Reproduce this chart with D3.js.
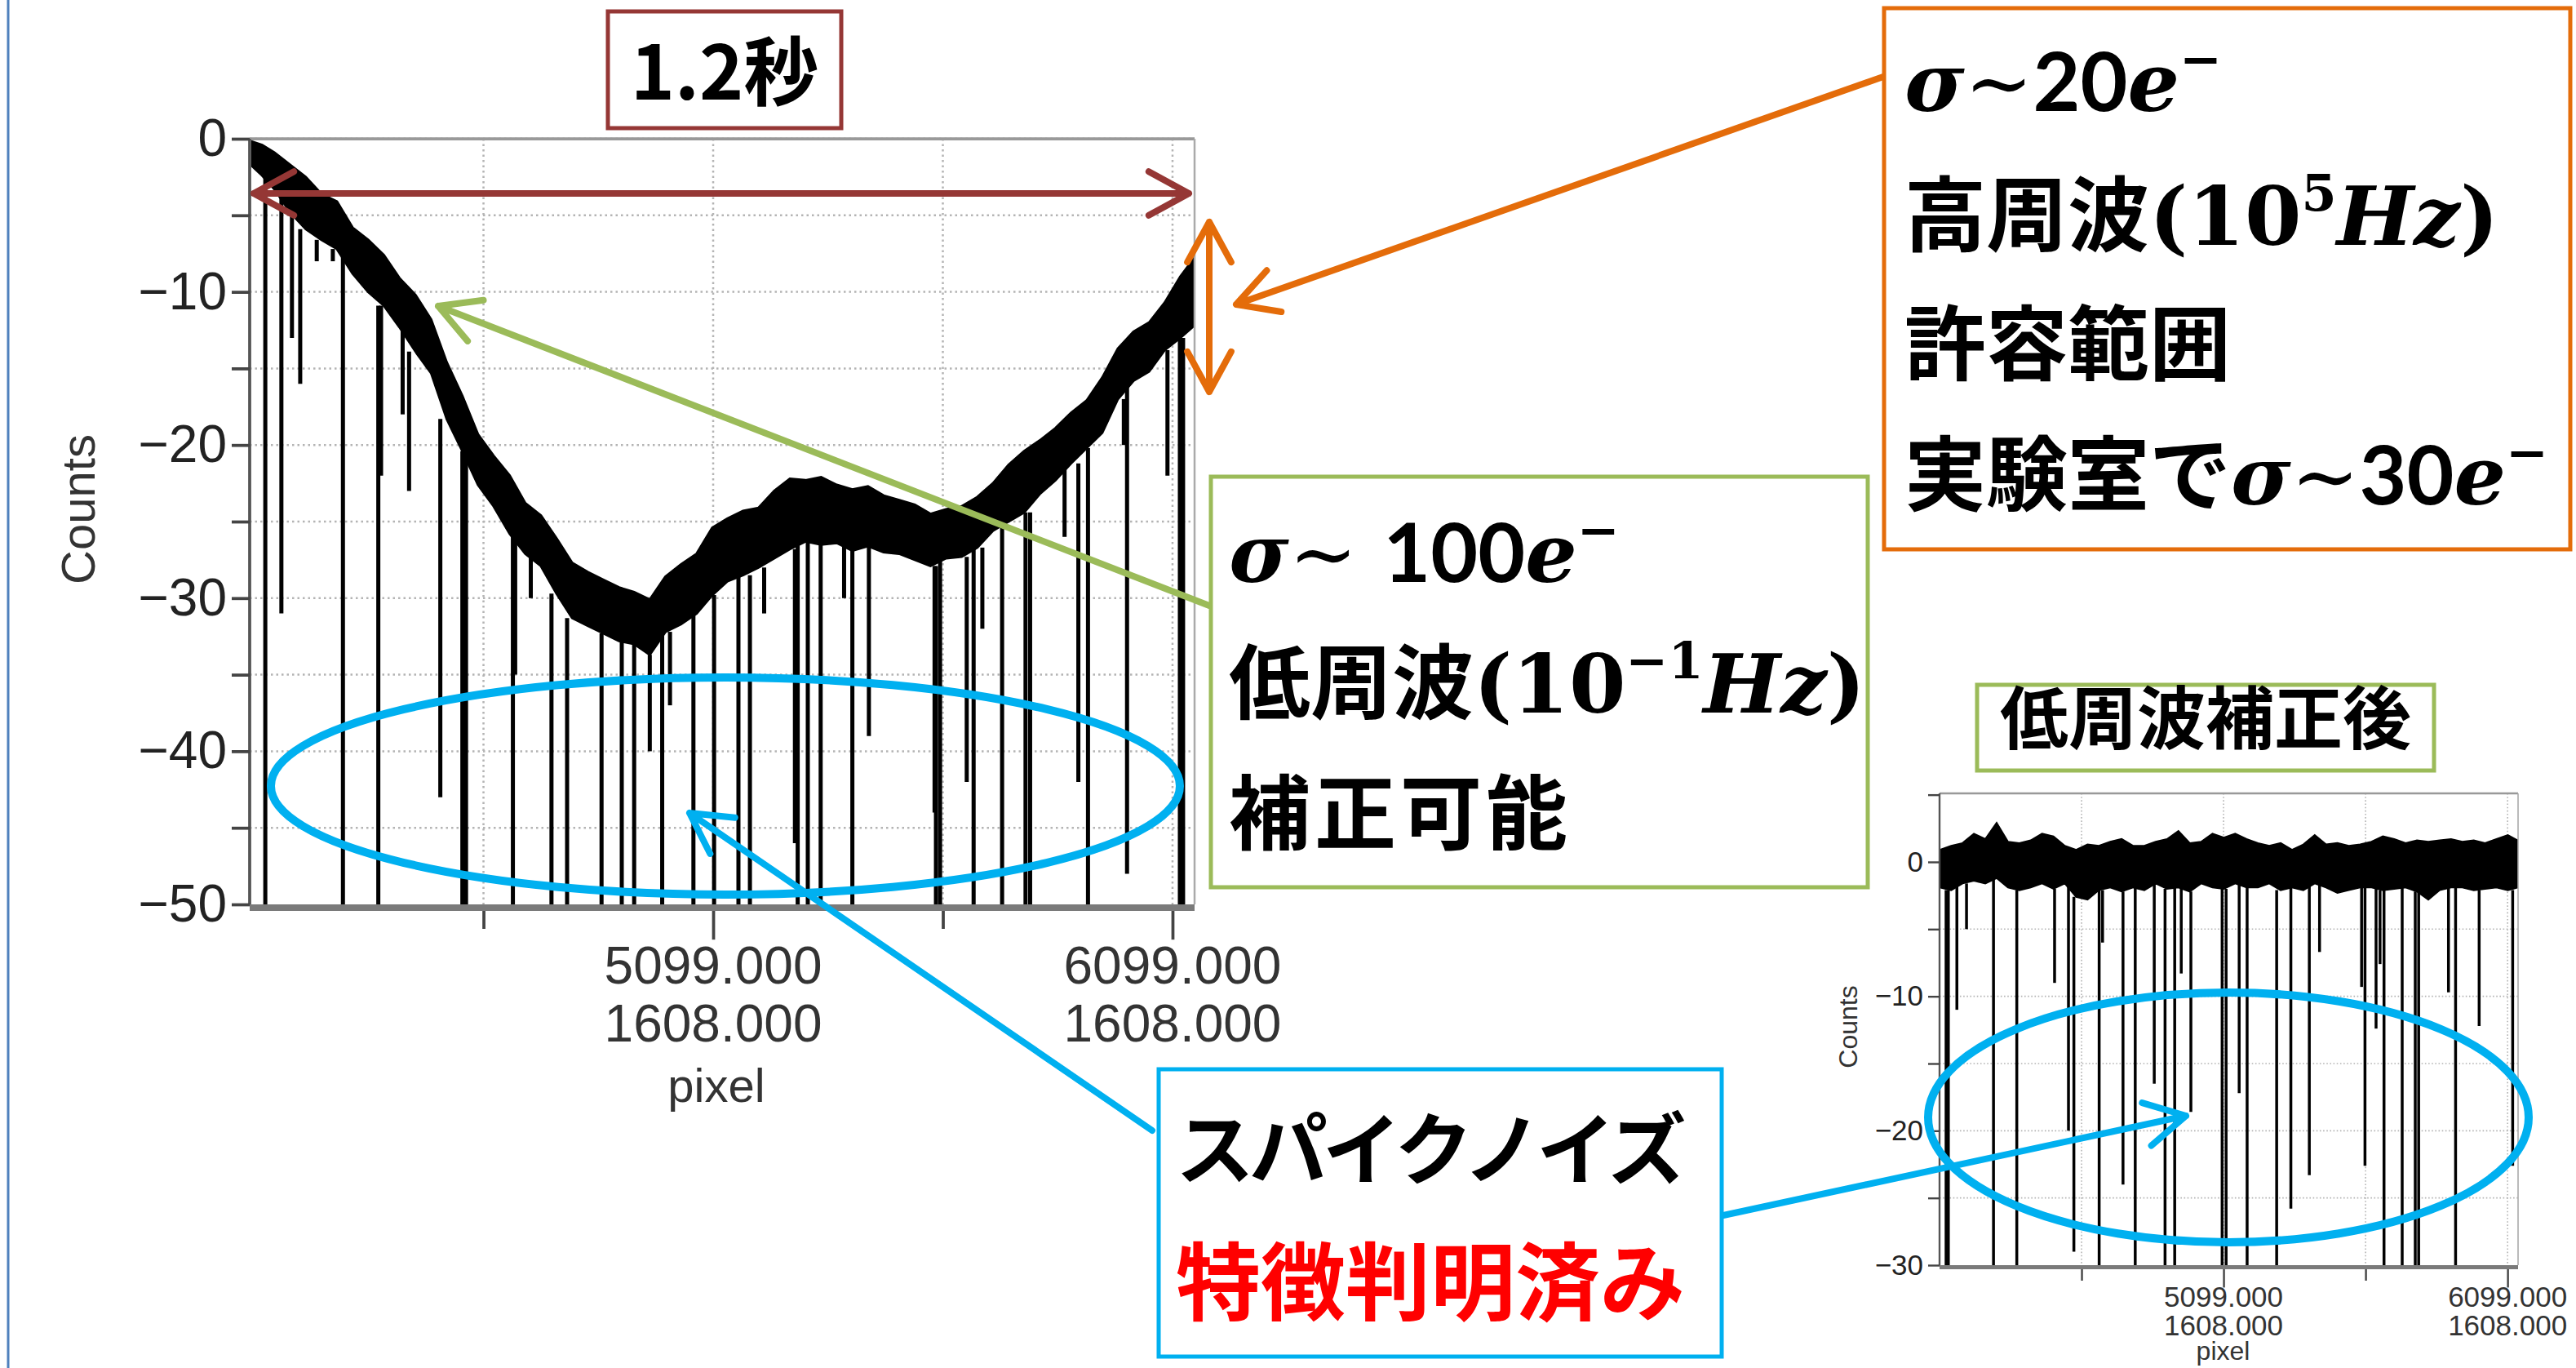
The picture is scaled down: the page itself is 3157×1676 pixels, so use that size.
<!DOCTYPE html>
<html lang="ja">
<head>
<meta charset="UTF-8" />
<title>ノイズ解析</title>
<script src="https://d3js.org/d3.v7.min.js"></script>
<style>
  body { margin: 0; background: #fff; }
  .tick text { font-family: "Liberation Sans", Arial, sans-serif; fill: #222; }
  .lab { font-family: "Liberation Sans", Arial, sans-serif; fill: #333; }
  .jp { font-family: "Noto Sans CJK JP", sans-serif; font-weight: 700; }
</style>
</head>
<body>
<script>
// raw row readout: noise band (upper / lower edge) along the pixel row
const rawPixel = [4096,4117,4144,4178,4212,4246,4280,4314,4348,4382,4416,4451,4485,4519,4553,4587,
  4621,4656,4690,4724,4758,4792,4826,4860,4894,4927,4961,4995,5029,5063,5097,5130,5164,5198,5232,
  5266,5300,5334,5368,5402,5436,5470,5504,5538,5572,5606,5640,5674,5708,5742,5776,5810,5844,5878,
  5912,5946,5980,6014,6048,6082,6116,6146];
const rawHi = [-0.2,-0.4,-0.9,-1.7,-2.5,-3.6,-4.1,-5.8,-6.6,-7.6,-9.1,-10.2,-11.8,-14.6,-16.8,-19.3,
  -20.7,-22.0,-23.8,-24.6,-26.1,-27.7,-28.3,-28.8,-29.3,-29.6,-30.1,-28.6,-27.8,-27.1,-25.4,-24.8,-24.3,
  -24.1,-23.0,-22.2,-22.3,-22.1,-22.6,-22.9,-22.7,-23.3,-23.6,-23.9,-24.5,-24.2,-24.0,-23.4,-22.5,-21.3,
  -20.4,-19.7,-18.9,-17.9,-17.1,-15.6,-13.7,-12.6,-12.0,-10.7,-9.0,-7.8];
const rawLo = [-1.8,-2.4,-3.3,-4.8,-5.9,-6.6,-7.2,-8.8,-10.0,-10.9,-12.3,-13.9,-15.3,-18.3,-20.4,-22.6,
  -24.0,-25.8,-27.1,-27.9,-29.7,-31.3,-31.8,-32.3,-32.8,-33.0,-33.7,-32.2,-31.7,-31.0,-29.8,-28.9,-28.5,
  -28.0,-27.4,-26.8,-26.3,-26.5,-26.4,-26.9,-26.6,-27.0,-27.1,-27.5,-27.9,-27.4,-27.3,-26.7,-25.6,-25.0,
  -24.4,-23.2,-22.3,-21.2,-20.2,-19.2,-17.0,-15.8,-15.2,-13.8,-13.0,-12.2];
// spike noise in the raw row: [pixel, lowest count]
const rawSpikes = [[4124,-50],[4159,-31],[4182,-13],[4200,-16],[4236,-8],[4271,-8],[4293,-50],[4370,-50],
  [4376,-22],[4423,-18],[4437,-23],[4505,-43],[4553,-50],[4561,-50],[4663,-50],[4668,-35],[4702,-30],
  [4747,-50],[4781,-50],[4856,-50],[4900,-50],[4927,-50],[4961,-40],[4988,-50],[5005,-37],[5056,-50],
  [5101,-50],[5154,-50],[5179,-50],[5210,-31],[5277,-46],[5283,-50],[5305,-50],[5333,-50],[5384,-30],
  [5402,-50],[5438,-39],[5581,-44],[5584,-50],[5593,-50],[5651,-42],[5666,-50],[5685,-32],[5728,-50],
  [5779,-50],[5789,-50],[5864,-26],[5894,-42],[5915,-50],[5993,-20],[6000,-48],[6088,-22],[6115,-50],
  [6122,-50]];

// same row after low-frequency correction
const corrPixel = [4100,4140,4180,4220,4260,4300,4340,4380,4420,4460,4500,4540,4580,4620,4660,4700,
  4740,4780,4820,4860,4900,4940,4980,5020,5060,5100,5140,5180,5220,5260,5300,5340,5380,5420,5460,5500,
  5540,5580,5620,5660,5700,5740,5780,5820,5860,5900,5940,5980,6020,6060,6100,6135];
const corrHi = [0.9,1.2,1.4,2.1,1.7,2.9,1.5,1.4,1.6,2.1,1.9,1.2,0.9,1.3,1.2,1.5,1.7,1.2,1.2,1.5,1.7,2.3,
  1.4,1.5,2.1,1.8,2.1,1.7,1.4,1.2,1.4,0.9,1.3,2.0,1.3,1.4,1.2,1.3,1.5,1.9,1.7,1.4,1.6,1.5,1.6,1.7,1.5,
  1.6,1.4,1.7,2.0,1.6];
const corrLo = [-1.9,-2.1,-1.6,-1.4,-1.6,-1.2,-1.9,-2.1,-1.9,-1.6,-2.0,-1.6,-2.6,-2.8,-2.1,-1.9,-2.2,
  -1.9,-2.1,-1.6,-2.0,-1.9,-2.2,-1.6,-1.9,-2.0,-1.6,-1.9,-1.9,-1.6,-2.1,-1.9,-2.1,-1.6,-1.9,-2.3,-2.1,
  -1.9,-1.9,-2.1,-2.0,-1.9,-2.2,-2.8,-2.1,-1.9,-1.9,-2.1,-2.0,-1.9,-2.1,-1.9];
const corrSpikes = [[4122,-30],[4130,-30],[4160,-11],[4194,-5],[4289,-30],[4371,-30],[4504,-9],[4553,-20],
  [4572,-29],[4661,-30],[4673,-6],[4745,-24],[4788,-30],[4855,-16.5],[4893,-30],[4927,-30],[4950,-8.3],
  [4984,-18.6],[5094,-30],[5108,-30],[5154,-17.2],[5182,-30],[5286,-30],[5336,-25.8],[5401,-23.3],
  [5437,-6.7],[5585,-9.3],[5597,-22.6],[5636,-12.4],[5650,-7.6],[5664,-30],[5728,-30],[5774,-30],
  [5786,-30],[5891,-9.7],[5916,-30],[5999,-12.2],[6117,-22.6]];

const xTicks = [4599, 5099, 5599, 6099];
const xTickLabels = { 5099: ["5099.000", "1608.000"], 6099: ["6099.000", "1608.000"] };
const rawYTicks = [0, -5, -10, -15, -20, -25, -30, -35, -40, -45, -50];
const corrYTicks = [5, 0, -5, -10, -15, -20, -25, -30];

const W = 3157, H = 1676;
const svg = d3.select("body").append("svg").attr("width", W).attr("height", H);
const fmt = d3.format("d");

function drawPanel(o) {
  const g = svg.append("g");
  const [x0, x1] = o.x.range(), [yb, yt] = o.y.range();
  const id = "clip" + o.name;
  svg.append("clipPath").attr("id", id).append("rect")
    .attr("x", x0).attr("y", yt).attr("width", x1 - x0).attr("height", yb - yt);

  // dotted grid
  g.selectAll(".gy").data(o.yTicks.filter(d => d > o.y.domain()[0] && d <= 0)).enter().append("line")
    .attr("x1", x0).attr("x2", x1).attr("y1", d => o.y(d)).attr("y2", d => o.y(d))
    .attr("stroke", "#b4b4b4").attr("stroke-width", o.grid).attr("stroke-dasharray", `${o.grid},${o.grid * 1.6}`);
  g.selectAll(".gx").data(xTicks).enter().append("line")
    .attr("x1", d => o.x(d)).attr("x2", d => o.x(d)).attr("y1", yt).attr("y2", yb)
    .attr("stroke", "#b4b4b4").attr("stroke-width", o.grid).attr("stroke-dasharray", `${o.grid},${o.grid * 1.6}`);

  const band = o.px.map((p, i) => ({ p, hi: o.hi[i], lo: o.lo[i] }));
  const plot = g.append("g").attr("clip-path", `url(#${id})`);

  // spikes hang from the lower edge of the band
  const bis = d3.bisector(d => d.p).center;
  plot.selectAll(".spike").data(o.spikes).enter().append("line")
    .attr("x1", d => o.x(d[0])).attr("x2", d => o.x(d[0]))
    .attr("y1", d => o.y(band[bis(band, d[0])].lo))
    .attr("y2", d => d[1] <= o.y.domain()[0] ? yb + 10 : o.y(d[1]))
    .attr("stroke", "#000").attr("stroke-width", o.spikeW);

  plot.append("path").datum(band)
    .attr("d", d3.area().x(d => o.x(d.p)).y0(d => o.y(d.lo)).y1(d => o.y(d.hi)))
    .attr("fill", "#000").attr("stroke", "#000").attr("stroke-width", o.spikeW * 0.6)
    .attr("stroke-linejoin", "miter");

  // frame
  g.append("line").attr("x1", x0).attr("x2", x1).attr("y1", yt).attr("y2", yt).attr("stroke", "#999").attr("stroke-width", o.grid * 1.5);
  g.append("line").attr("x1", x1).attr("x2", x1).attr("y1", yt).attr("y2", yb).attr("stroke", "#aaa").attr("stroke-width", o.grid);
  g.append("line").attr("x1", x0).attr("x2", x0).attr("y1", yt).attr("y2", yb).attr("stroke", "#555").attr("stroke-width", o.grid * 1.5);
  g.append("line").attr("x1", x0).attr("x2", x1).attr("y1", yb + o.base / 2).attr("y2", yb + o.base / 2)
    .attr("stroke", "#7a7a7a").attr("stroke-width", o.base);

  // y axis
  const ya = g.append("g").attr("transform", `translate(${x0},0)`)
    .call(d3.axisLeft(o.y).tickValues(o.yTicks).tickSize(o.tick).tickPadding(o.pad)
      .tickFormat(d => d % 10 === 0 ? fmt(d) : ""));
  ya.select(".domain").remove();
  ya.selectAll(".tick line").attr("stroke", "#444").attr("stroke-width", o.grid * 1.5);
  ya.selectAll(".tick text").attr("font-size", o.fs);

  // x axis
  const xa = g.append("g").attr("transform", `translate(0,${yb + o.base})`)
    .call(d3.axisBottom(o.x).tickValues(xTicks).tickSize(o.tick).tickFormat(""));
  xa.select(".domain").remove();
  xa.selectAll(".tick line").attr("stroke", "#444").attr("stroke-width", o.grid * 1.5)
    .attr("y2", d => xTickLabels[d] ? o.tick * 1.6 : o.tick);
  xTicks.filter(d => xTickLabels[d]).forEach(d => {
    xTickLabels[d].forEach((s, i) => {
      g.append("text").attr("class", "lab").attr("x", o.x(d)).attr("y", o.lab1 + i * o.labGap)
        .attr("text-anchor", "middle").attr("font-size", o.fs).attr("fill", "#222").text(s);
    });
  });
  g.append("text").attr("class", "lab").attr("x", (x0 + x1) / 2 + o.pixDx).attr("y", o.pixY)
    .attr("text-anchor", "middle").attr("font-size", o.fsT).text("pixel");
  g.append("text").attr("class", "lab")
    .attr("transform", `translate(${o.cntX},${o.cntY}) rotate(-90)`)
    .attr("text-anchor", "middle").attr("font-size", o.fsT).text("Counts");
}

drawPanel({
  name: "raw",
  x: d3.scaleLinear().domain([4090, 6147]).range([306, 1464]),
  y: d3.scaleLinear().domain([-50, 0]).range([1108, 170]),
  px: rawPixel, hi: rawHi, lo: rawLo, spikes: rawSpikes, yTicks: rawYTicks,
  grid: 2.5, spikeW: 5, base: 8, tick: 22, pad: 6, fs: 64, fsT: 58,
  lab1: 1205, labGap: 71, pixY: 1350, pixDx: -7, cntX: 116, cntY: 624
});
drawPanel({
  name: "corr",
  x: d3.scaleLinear().domain([4099, 6136]).range([2377, 3086]),
  y: d3.scaleLinear().domain([-30, 5.1]).range([1550, 972]),
  px: corrPixel, hi: corrHi, lo: corrLo, spikes: corrSpikes, yTicks: corrYTicks,
  grid: 1.6, spikeW: 3.5, base: 5, tick: 14, pad: 6, fs: 35, fsT: 32,
  lab1: 1601, labGap: 35, pixY: 1666, pixDx: -7, cntX: 2276, cntY: 1258
});

// ---------- annotations ----------
const RED = "#953735", ORANGE = "#E46C0A", GREEN = "#9BBB59", BLUE = "#00B0F0";
const ann = svg.append("g");

// slide edge
ann.append("line").attr("x1", 10).attr("x2", 10).attr("y1", 0).attr("y2", H)
  .attr("stroke", "#4F81BD").attr("stroke-width", 3);

function head(x1, y1, x2, y2, len, ang) {
  const a = Math.atan2(y2 - y1, x2 - x1);
  const p1 = [x2 - len * Math.cos(a - ang), y2 - len * Math.sin(a - ang)];
  const p2 = [x2 - len * Math.cos(a + ang), y2 - len * Math.sin(a + ang)];
  return `M${p1}L${x2},${y2}L${p2}`;
}
function arrow(x1, y1, x2, y2, color, both) {
  let d = `M${x1},${y1}L${x2},${y2}` + head(x1, y1, x2, y2, 56, 0.5);
  if (both) d += head(x2, y2, x1, y1, 56, 0.5);
  ann.append("path").attr("d", d).attr("fill", "none").attr("stroke", color)
    .attr("stroke-width", 8).attr("stroke-linecap", "round").attr("stroke-linejoin", "round");
}

ann.append("ellipse").attr("cx", 889).attr("cy", 963).attr("rx", 557).attr("ry", 133)
  .attr("fill", "none").attr("stroke", BLUE).attr("stroke-width", 10);
ann.append("ellipse").attr("cx", 2731).attr("cy", 1369).attr("rx", 368).attr("ry", 153)
  .attr("fill", "none").attr("stroke", BLUE).attr("stroke-width", 10);

arrow(311, 237, 1457, 237, RED, true);
arrow(1482, 480, 1482, 272, ORANGE, true);
arrow(2308, 94, 1515, 373, ORANGE);
arrow(1482, 742, 537, 375, GREEN);
arrow(1412, 1385, 845, 996, BLUE);
arrow(2112, 1489, 2679, 1367, BLUE);

function box(x, y, w, h, color) {
  ann.append("rect").attr("x", x).attr("y", y).attr("width", w).attr("height", h)
    .attr("fill", "#fff").attr("stroke", color).attr("stroke-width", 5);
}
const SERIF = "DejaVu Serif";
function line(x, y, size, runs, attrs) {
  const t = ann.append("text").attr("class", "jp").attr("x", x).attr("y", y).attr("font-size", size);
  if (attrs) Object.entries(attrs).forEach(([k, v]) => t.attr(k, v));
  let up = false;
  runs.forEach(r => {
    const s = t.append("tspan").text(r.t);
    if (r.f) s.attr("font-family", r.f);
    if (r.i) s.attr("font-style", "italic");
    if (r.w) s.attr("font-weight", r.w);
    if (r.sup && !up) { s.attr("font-size", size * 0.62).attr("dy", -size * 0.42); up = true; }
    else if (!r.sup && up) { s.attr("dy", size * 0.42); up = false; }
    else if (r.sup) s.attr("font-size", size * 0.62);
  });
}

// 1.2秒
box(745, 14, 286, 143, RED);
line(888, 122, 92, [{ t: "1.2秒" }], { "text-anchor": "middle" });

// high-frequency note
box(2309, 10, 841, 663, ORANGE);
line(2334, 136, 100, [{ t: "σ", f: SERIF, i: 1 }, { t: "∼", f: SERIF, w: 400 }, { t: "20", f: "Lato" },
  { t: "e", f: SERIF, i: 1 }, { t: "−", f: SERIF, sup: 1 }]);
line(2334, 300, 100, [{ t: "高周波" }, { t: "(10", f: SERIF }, { t: "5", f: SERIF, sup: 1 },
  { t: "Hz", f: SERIF, i: 1 }, { t: ")", f: SERIF }]);
line(2334, 458, 100, [{ t: "許容範囲" }]);
line(2334, 618, 100, [{ t: "実験室で" }, { t: "σ", f: SERIF, i: 1 }, { t: "∼", f: SERIF, w: 400 },
  { t: "30", f: "Lato" }, { t: "e", f: SERIF, i: 1 }, { t: "−", f: SERIF, sup: 1 }]);

// low-frequency note
box(1484, 584, 805, 503, GREEN);
line(1506, 713, 100, [{ t: "σ", f: SERIF, i: 1 }, { t: "∼ ", f: SERIF, w: 400 }, { t: "100", f: "Lato" },
  { t: "e", f: SERIF, i: 1 }, { t: "−", f: SERIF, sup: 1 }]);
line(1506, 873, 100, [{ t: "低周波" }, { t: "(10", f: SERIF }, { t: "−1", f: SERIF, sup: 1 },
  { t: "Hz", f: SERIF, i: 1 }, { t: ")", f: SERIF }]);
line(1506, 1033, 100, [{ t: "補正可能" }], { "letter-spacing": 5 });

// spike noise note
box(1420, 1310, 690, 352, BLUE);
line(1441, 1443, 96, [{ t: "スパイクノイズ" }], { "letter-spacing": -6 });
line(1441, 1610, 104, [{ t: "特徴判明済み" }], { fill: "#FF0000" });

// after correction label
box(2423, 839, 560, 105, GREEN);
line(2703, 911, 84, [{ t: "低周波補正後" }], { "text-anchor": "middle" });
</script>
</body>
</html>
